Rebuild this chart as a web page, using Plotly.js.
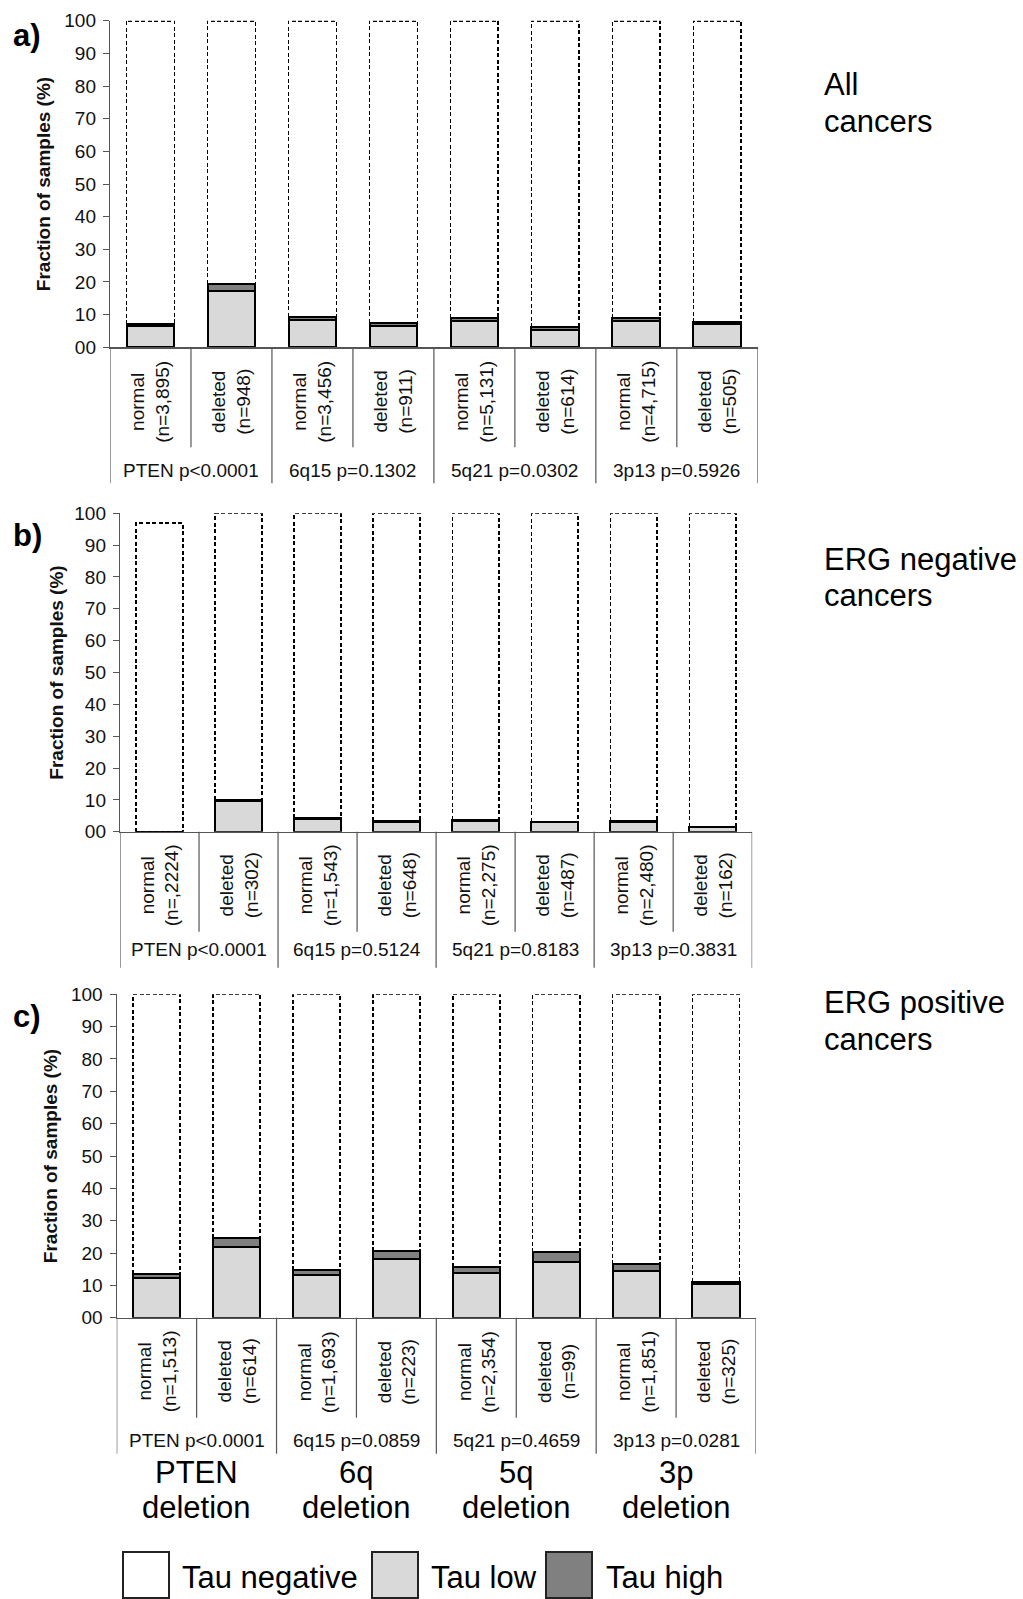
<!DOCTYPE html>
<html>
<head>
<meta charset="utf-8">
<script src="https://cdn.plot.ly/plotly-3.0.1.min.js"></script>
<style>body{margin:0;background:#fff;}</style>
</head>
<body>
<div id="chart" style="width:1023px;height:1599px;"></div>
<script>
// ---------- data ----------
const categoriesA = ["normal<br>(n=3,895)", "deleted<br>(n=948)", "normal<br>(n=3,456)", "deleted<br>(n=911)", "normal<br>(n=5,131)", "deleted<br>(n=614)", "normal<br>(n=4,715)", "deleted<br>(n=505)"];
const categoriesB = ["normal<br>(n=,2224)", "deleted<br>(n=302)", "normal<br>(n=1,543)", "deleted<br>(n=648)", "normal<br>(n=2,275)", "deleted<br>(n=487)", "normal<br>(n=2,480)", "deleted<br>(n=162)"];
const categoriesC = ["normal<br>(n=1,513)", "deleted<br>(n=614)", "normal<br>(n=1,693)", "deleted<br>(n=223)", "normal<br>(n=2,354)", "deleted<br>(n=99)", "normal<br>(n=1,851)", "deleted<br>(n=325)"];

const tauLowA  = [6.4, 17.3, 8.4, 6.5, 7.9, 5.3, 7.9, 7.1];
const tauHighA = [0.6, 2.1, 1.0, 1.0, 1.2, 0.8, 1.0, 0.6];
const tauNegA  = [93.0, 80.6, 90.6, 92.5, 90.9, 93.9, 91.1, 92.3];

const tauLowB  = [0, 9.6, 4.0, 3.1, 3.4, 2.9, 3.2, 1.5];
const tauHighB = [0, 0.4, 0.3, 0.3, 0.3, 0.3, 0.3, 0.1];
const tauNegB  = [97.0, 90.0, 95.7, 96.6, 96.3, 96.8, 96.5, 98.4];

const tauLowC  = [12.3, 21.8, 13.1, 18.1, 13.7, 17.1, 14.4, 10.4];
const tauHighC = [1.3, 2.7, 1.6, 2.5, 2.0, 3.2, 2.1, 0.7];
const tauNegC  = [86.4, 75.5, 85.3, 79.4, 84.3, 79.7, 83.5, 88.9];

const groupLabelsA = ["PTEN p<0.0001", "6q15 p=0.1302", "5q21 p=0.0302", "3p13 p=0.5926"];
const groupLabelsB = ["PTEN p<0.0001", "6q15 p=0.5124", "5q21 p=0.8183", "3p13 p=0.3831"];
const groupLabelsC = ["PTEN p<0.0001", "6q15 p=0.0859", "5q21 p=0.4659", "3p13 p=0.0281"];

const deletionNames = ["PTEN", "6q", "5q", "3p"];
const deletionWord = "deletion";

const yTickVals = [0, 10, 20, 30, 40, 50, 60, 70, 80, 90, 100];
const yTickText = ["00", "10", "20", "30", "40", "50", "60", "70", "80", "90", "100"];

const seriesNames = ["Tau negative", "Tau low", "Tau high"];
const panelTitleLine1 = ["All", "ERG negative", "ERG positive"];
const panelTitleLine2 = ["cancers", "cancers", "cancers"];
const panelLetters = ["a)", "b)", "c)"];

// ---------- layout helpers ----------
const W = 1023, H = 1599;
const fx = p => p / W;
const fy = p => 1 - p / H;
const FONT = "Liberation Sans, Arial, Helvetica, sans-serif";
const TXT = "#111";
const LINE = "#555";
const LOW_COLOR = "#d9d9d9";
const HIGH_COLOR = "#808080";
const NEG_STROKE = "rgb(0,0,1)";

const panels = [
  {ax: "", L: 110, R: 757.8, T: 20.7, B: 347.3, cats: categoriesA, low: tauLowA, high: tauHighA, neg: tauNegA, groups: groupLabelsA, grpOff: 123, letterY: 36, titleY1: 84, titleY2: 121, yTitleStandoff: 8},
  {ax: "2", L: 120, R: 752.2, T: 513.3, B: 831.7, cats: categoriesB, low: tauLowB, high: tauHighB, neg: tauNegB, groups: groupLabelsB, grpOff: 118, letterY: 535, titleY1: 559, titleY2: 596, yTitleStandoff: 5},
  {ax: "3", L: 116.7, R: 756, T: 994.3, B: 1317.7, cats: categoriesC, low: tauLowC, high: tauHighC, neg: tauNegC, groups: groupLabelsC, grpOff: 123, letterY: 1016, titleY1: 1002, titleY2: 1039, yTitleStandoff: 8}
];

const traces = [];
const shapes = [];
const annotations = [];
const layout = {
  width: W, height: H,
  margin: {l: 0, r: 0, t: 0, b: 0},
  paper_bgcolor: "#fff", plot_bgcolor: "#fff",
  barmode: "stack", bargap: 0.41,
  showlegend: false,
  font: {family: FONT, color: TXT}
};

panels.forEach((p, k) => {
  const xa = "x" + p.ax, ya = "y" + p.ax;
  traces.push({type: "bar", name: seriesNames[1], x: p.cats, y: p.low, xaxis: xa, yaxis: ya,
    marker: {color: LOW_COLOR, line: {color: "#000", width: 2}}, hoverinfo: "skip"});
  traces.push({type: "bar", name: seriesNames[2], x: p.cats, y: p.high, xaxis: xa, yaxis: ya,
    marker: {color: HIGH_COLOR, line: {color: "#000", width: 2}}, hoverinfo: "skip"});
  traces.push({type: "bar", name: seriesNames[0], x: p.cats, y: p.neg, xaxis: xa, yaxis: ya,
    marker: {color: "rgba(255,255,255,0)", line: {color: NEG_STROKE, width: 1.6}}, hoverinfo: "skip"});

  layout["xaxis" + p.ax] = {
    domain: [fx(p.L), fx(p.R)], anchor: ya, type: "category", range: [-0.5, 7.5],
    showline: true, linecolor: LINE, linewidth: 1.2, ticks: "", showticklabels: false,
    showgrid: false, zeroline: false, fixedrange: true
  };
  layout["yaxis" + p.ax] = {
    domain: [fy(p.B), fy(p.T)], anchor: xa, range: [0, 100],
    tickvals: yTickVals, ticktext: yTickText, ticks: "outside", ticklen: 6, tickcolor: LINE,
    ticklabelstandoff: 3,
    tickfont: {size: 19, color: TXT, family: FONT},
    showline: true, linecolor: LINE, linewidth: 1.2, showgrid: false, zeroline: false, fixedrange: true,
    title: {text: "<b>Fraction of samples (%)</b>", font: {size: 19, color: TXT, family: FONT}, standoff: p.yTitleStandoff}
  };

  // rotated category labels
  p.cats.forEach((c, i) => {
    annotations.push({xref: xa, yref: "paper", x: i, y: fy(p.B + 54), text: c, textangle: -90,
      showarrow: false, xanchor: "center", yanchor: "middle", align: "center",
      font: {size: 19, color: TXT, family: FONT}});
  });
  // group labels
  p.groups.forEach((g, j) => {
    annotations.push({xref: xa, yref: "paper", x: 2 * j + 0.5, y: fy(p.B + p.grpOff), text: g,
      showarrow: false, xanchor: "center", yanchor: "middle",
      font: {size: 19, color: TXT, family: FONT}});
  });
  // table dividers
  [0.5, 2.5, 4.5, 6.5].forEach(v => shapes.push({type: "line", xref: xa, yref: "paper", x0: v, x1: v,
    y0: fy(p.B), y1: fy(p.B + 100), line: {color: LINE, width: 1.2}}));
  [-0.5, 1.5, 3.5, 5.5, 7.5].forEach(v => shapes.push({type: "line", xref: xa, yref: "paper", x0: v, x1: v,
    y0: fy(p.B), y1: fy(p.B + 136), line: {color: LINE, width: 1.2}}));

  // panel letter
  annotations.push({xref: "paper", yref: "paper", x: fx(27), y: fy(p.letterY), text: "<b>" + panelLetters[k] + "</b>",
    showarrow: false, xanchor: "center", yanchor: "middle", font: {size: 31, color: "#000", family: FONT}});
  // side title (two lines)
  annotations.push({xref: "paper", yref: "paper", x: fx(822), y: fy(p.titleY1), text: panelTitleLine1[k],
    showarrow: false, xanchor: "left", yanchor: "middle", align: "left", font: {size: 31, color: "#000", family: FONT}});
  annotations.push({xref: "paper", yref: "paper", x: fx(822), y: fy(p.titleY2), text: panelTitleLine2[k],
    showarrow: false, xanchor: "left", yanchor: "middle", align: "left", font: {size: 31, color: "#000", family: FONT}});
});

// bottom deletion labels under panel c
deletionNames.forEach((d, j) => {
  annotations.push({xref: "x3", yref: "paper", x: 2 * j + 0.5, y: fy(1472), text: d, showarrow: false,
    xanchor: "center", yanchor: "middle", font: {size: 31, color: "#000", family: FONT}});
  annotations.push({xref: "x3", yref: "paper", x: 2 * j + 0.5, y: fy(1507), text: deletionWord, showarrow: false,
    xanchor: "center", yanchor: "middle", font: {size: 31, color: "#000", family: FONT}});
});

// manual legend
const legendItems = [
  {name: seriesNames[0], fill: "#ffffff", bx: 123, tx: 180},
  {name: seriesNames[1], fill: LOW_COLOR, bx: 372, tx: 429},
  {name: seriesNames[2], fill: HIGH_COLOR, bx: 546, tx: 604}
];
legendItems.forEach(it => {
  shapes.push({type: "rect", xref: "paper", yref: "paper", x0: fx(it.bx), x1: fx(it.bx + 46),
    y0: fy(1598), y1: fy(1552), fillcolor: it.fill, line: {color: "#222", width: 2}});
  annotations.push({xref: "paper", yref: "paper", x: fx(it.tx), y: fy(1577), text: it.name, showarrow: false,
    xanchor: "left", yanchor: "middle", font: {size: 31, color: "#000", family: FONT}});
});

layout.shapes = shapes;
layout.annotations = annotations;

Plotly.newPlot("chart", traces, layout, {staticPlot: true, displayModeBar: false}).then(gd => {
  gd.querySelectorAll(".barlayer .trace").forEach(g => {
    const cd = g.__data__;
    const isNeg = cd && cd[0] && cd[0].trace && cd[0].trace.name === seriesNames[0];
    g.querySelectorAll("path").forEach(path => {
      if (isNeg || path.style.stroke === "rgb(0, 0, 1)") {
        path.style.strokeDasharray = "4px,2.5px";
        path.style.stroke = "#000";
      }
    });
  });
});
</script>
</body>
</html>
